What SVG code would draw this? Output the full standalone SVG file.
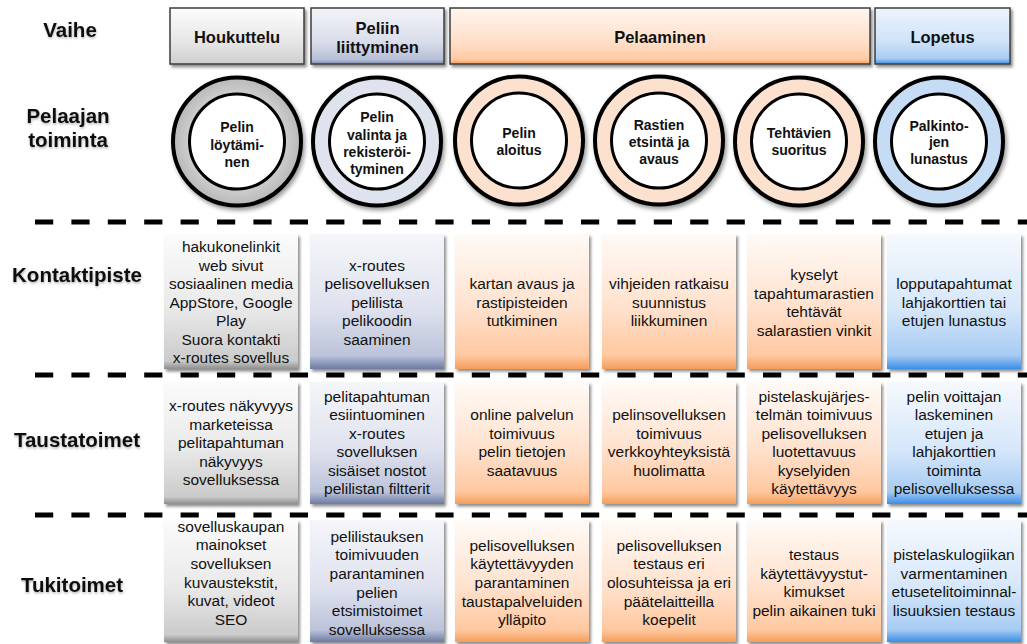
<svg xmlns="http://www.w3.org/2000/svg" width="1027" height="644" viewBox="0 0 1027 644">
  <style>
    text { font-family: "Liberation Sans", Arial, Helvetica, sans-serif; fill: #111; text-anchor: middle; }
    .lab { font-size: 20.5px; font-weight: bold; }
    .hdr { font-size: 16.5px; font-weight: bold; }
    .act { font-size: 14px; font-weight: bold; }
    .cell { font-size: 15.5px; }
    .box { stroke: #3c3c3c; stroke-width: 1.5; filter: url(#shadow); }
    .card { filter: url(#shadow); }
    .ring { stroke: #000; stroke-width: 4; filter: url(#cshadow); }
    .core { fill: #fff; stroke: #000; stroke-width: 3; }
    .dash { stroke: #000; stroke-width: 5; stroke-dasharray: 18.2 18.2; fill: none; }
  </style>
  <defs>
    <filter id="shadow" x="-10%" y="-10%" width="125%" height="125%">
      <feDropShadow dx="2" dy="2.5" stdDeviation="1.6" flood-color="#000" flood-opacity="0.45"/>
    </filter>
    <filter id="cshadow" x="-15%" y="-15%" width="135%" height="135%">
      <feDropShadow dx="2" dy="3" stdDeviation="2" flood-color="#000" flood-opacity="0.4"/>
    </filter>
    <filter id="tshadow" x="-10%" y="-20%" width="120%" height="150%">
      <feDropShadow dx="0.5" dy="1.5" stdDeviation="1" flood-color="#000" flood-opacity="0.3"/>
    </filter>
    <!-- header boxes -->
    <linearGradient id="hGray" x1="0" y1="0" x2="0" y2="1">
      <stop offset="0" stop-color="#fdfdfd"/>
      <stop offset="0.6" stop-color="#e6e6e6"/>
      <stop offset="1" stop-color="#cfcfcf"/>
    </linearGradient>
    <linearGradient id="hSlate" x1="0" y1="0" x2="0" y2="1">
      <stop offset="0" stop-color="#f3f4f9"/>
      <stop offset="0.6" stop-color="#dadeea"/>
      <stop offset="0.92" stop-color="#b7bfd6"/>
      <stop offset="1" stop-color="#7f8db3"/>
    </linearGradient>
    <linearGradient id="hPeach" x1="0" y1="0" x2="0" y2="1">
      <stop offset="0" stop-color="#fff5ef"/>
      <stop offset="0.6" stop-color="#ffdfca"/>
      <stop offset="0.92" stop-color="#ffc9a4"/>
      <stop offset="1" stop-color="#f49a55"/>
    </linearGradient>
    <linearGradient id="hBlue" x1="0" y1="0" x2="0" y2="1">
      <stop offset="0" stop-color="#eef4fd"/>
      <stop offset="0.6" stop-color="#cfe2f8"/>
      <stop offset="0.9" stop-color="#a9cdf3"/>
      <stop offset="1" stop-color="#3f8fe4"/>
    </linearGradient>
    <!-- ring fill for the first action -->
    <radialGradient id="rGray" cx="0.5" cy="0.5" r="0.5">
      <stop offset="0.7" stop-color="#d2d2d2"/>
      <stop offset="1" stop-color="#b8b8b8"/>
    </radialGradient>
    <!-- table cards -->
    <linearGradient id="cGray" x1="0" y1="0" x2="0" y2="1">
      <stop offset="0" stop-color="#fbfbfb"/>
      <stop offset="0.55" stop-color="#e9e9e9"/>
      <stop offset="0.94" stop-color="#cbcbcb"/>
      <stop offset="1" stop-color="#8e8e8e"/>
    </linearGradient>
    <linearGradient id="cSlate" x1="0" y1="0" x2="0" y2="1">
      <stop offset="0" stop-color="#f5f6fa"/>
      <stop offset="0.55" stop-color="#dfe2ee"/>
      <stop offset="0.9" stop-color="#bcc3da"/>
      <stop offset="1" stop-color="#6c7ba2"/>
    </linearGradient>
    <linearGradient id="cPeach" x1="0" y1="0" x2="0" y2="1">
      <stop offset="0" stop-color="#fffaf6"/>
      <stop offset="0.55" stop-color="#ffe1cd"/>
      <stop offset="0.9" stop-color="#ffc8a0"/>
      <stop offset="1" stop-color="#f59d5a"/>
    </linearGradient>
    <linearGradient id="cBlue" x1="0" y1="0" x2="0" y2="1">
      <stop offset="0" stop-color="#f6f9fe"/>
      <stop offset="0.55" stop-color="#d6e7fa"/>
      <stop offset="0.9" stop-color="#a6cbf3"/>
      <stop offset="1" stop-color="#3b8de6"/>
    </linearGradient>
  </defs>

  <!-- row labels -->
  <g id="labels" filter="url(#tshadow)">
    <text class="lab" x="70" y="37">Vaihe</text>
    <text class="lab" x="68" y="123">Pelaajan</text>
    <text class="lab" x="68" y="147">toiminta</text>
    <text class="lab" x="77" y="282">Kontaktipiste</text>
    <text class="lab" x="77" y="447">Taustatoimet</text>
    <text class="lab" x="72" y="592">Tukitoimet</text>
  </g>

  <!-- dashed row separators -->
  <g id="connectors">
    <line class="dash" x1="35" y1="222" x2="1027" y2="222"/>
    <line class="dash" x1="35" y1="375" x2="1027" y2="375"/>
    <line class="dash" x1="35" y1="515" x2="1027" y2="515"/>
  </g>

  <!-- phases -->
  <g id="phase-houkuttelu">
    <rect class="box" x="170" y="8" width="134" height="56" fill="url(#hGray)"/>
    <text class="hdr" x="237" y="43">Houkuttelu</text>
  </g>
  <g id="phase-liittyminen">
    <rect class="box" x="311" y="8" width="133" height="56" fill="url(#hSlate)"/>
    <text class="hdr" x="377.5" y="34">Peliin</text>
    <text class="hdr" x="377.5" y="53">liittyminen</text>
  </g>
  <g id="phase-pelaaminen">
    <rect class="box" x="450" y="8" width="420" height="56" fill="url(#hPeach)"/>
    <text class="hdr" x="660" y="43">Pelaaminen</text>
  </g>
  <g id="phase-lopetus">
    <rect class="box" x="875" y="8" width="135" height="56" fill="url(#hBlue)"/>
    <text class="hdr" x="942.5" y="43">Lopetus</text>
  </g>

  <!-- player actions -->
  <g id="act-loytaminen">
    <circle class="ring" cx="237" cy="141.5" r="64" fill="url(#rGray)"/>
    <circle class="core" cx="237" cy="141.5" r="47.5"/>
    <text class="act" x="237" y="132">Pelin</text>
    <text class="act" x="237" y="149.5">löytämi-</text>
    <text class="act" x="237" y="167">nen</text>
  </g>
  <g id="act-valinta">
    <circle class="ring" cx="377" cy="141.5" r="64" fill="#dfe3ee"/>
    <circle class="core" cx="377" cy="141.5" r="47.5"/>
    <text class="act" x="377" y="122">Pelin</text>
    <text class="act" x="377" y="139.5">valinta ja</text>
    <text class="act" x="377" y="157">rekisteröi-</text>
    <text class="act" x="377" y="174">tyminen</text>
  </g>
  <g id="act-aloitus">
    <circle class="ring" cx="519" cy="140.5" r="64" fill="#fde1cf"/>
    <circle class="core" cx="519" cy="140.5" r="47.5"/>
    <text class="act" x="519" y="138">Pelin</text>
    <text class="act" x="519" y="155">aloitus</text>
  </g>
  <g id="act-rastit">
    <circle class="ring" cx="659" cy="140.5" r="64" fill="#fde1cf"/>
    <circle class="core" cx="659" cy="140.5" r="47.5"/>
    <text class="act" x="659" y="130">Rastien</text>
    <text class="act" x="659" y="147">etsintä ja</text>
    <text class="act" x="659" y="164">avaus</text>
  </g>
  <g id="act-tehtavat">
    <circle class="ring" cx="799" cy="141.5" r="64" fill="#fde1cf"/>
    <circle class="core" cx="799" cy="141.5" r="47.5"/>
    <text class="act" x="799" y="138">Tehtävien</text>
    <text class="act" x="799" y="155">suoritus</text>
  </g>
  <g id="act-palkinnot">
    <circle class="ring" cx="939" cy="141.5" r="64" fill="#c6dcf5"/>
    <circle class="core" cx="939" cy="141.5" r="47.5"/>
    <text class="act" x="939" y="131">Palkinto-</text>
    <text class="act" x="939" y="147">jen</text>
    <text class="act" x="939" y="163.5">lunastus</text>
  </g>

  <!-- Kontaktipiste row -->
  <g id="kp-1">
    <rect class="card" x="164" y="234" width="134" height="135" fill="url(#cGray)"/>
    <text class="cell" y="252"><tspan x="231">hakukonelinkit</tspan><tspan x="231" dy="18.5">web sivut</tspan><tspan x="231" dy="18.5">sosiaalinen media</tspan><tspan x="231" dy="18.5">AppStore, Google</tspan><tspan x="231" dy="18.5">Play</tspan><tspan x="231" dy="18.5">Suora kontakti</tspan><tspan x="231" dy="18.5">x-routes sovellus</tspan></text>
  </g>
  <g id="kp-2">
    <rect class="card" x="310" y="234" width="134" height="135" fill="url(#cSlate)"/>
    <text class="cell" y="270.5"><tspan x="377">x-routes</tspan><tspan x="377" dy="18.5">pelisovelluksen</tspan><tspan x="377" dy="18.5">pelilista</tspan><tspan x="377" dy="18.5">pelikoodin</tspan><tspan x="377" dy="18.5">saaminen</tspan></text>
  </g>
  <g id="kp-3">
    <rect class="card" x="455" y="234" width="134" height="135" fill="url(#cPeach)"/>
    <text class="cell" y="289"><tspan x="522">kartan avaus ja</tspan><tspan x="522" dy="18.5">rastipisteiden</tspan><tspan x="522" dy="18.5">tutkiminen</tspan></text>
  </g>
  <g id="kp-4">
    <rect class="card" x="602" y="234" width="134" height="135" fill="url(#cPeach)"/>
    <text class="cell" y="289"><tspan x="669">vihjeiden ratkaisu</tspan><tspan x="669" dy="18.5">suunnistus</tspan><tspan x="669" dy="18.5">liikkuminen</tspan></text>
  </g>
  <g id="kp-5">
    <rect class="card" x="747" y="234" width="134" height="135" fill="url(#cPeach)"/>
    <text class="cell" y="280"><tspan x="814">kyselyt</tspan><tspan x="814" dy="18.5">tapahtumarastien</tspan><tspan x="814" dy="18.5">tehtävät</tspan><tspan x="814" dy="18.5">salarastien vinkit</tspan></text>
  </g>
  <g id="kp-6">
    <rect class="card" x="887" y="234" width="134" height="135" fill="url(#cBlue)"/>
    <text class="cell" y="289"><tspan x="954">lopputapahtumat</tspan><tspan x="954" dy="18.5">lahjakorttien tai</tspan><tspan x="954" dy="18.5">etujen lunastus</tspan></text>
  </g>

  <!-- Taustatoimet row -->
  <g id="tt-1">
    <rect class="card" x="164" y="382" width="134" height="122" fill="url(#cGray)"/>
    <text class="cell" y="411"><tspan x="231">x-routes näkyvyys</tspan><tspan x="231" dy="18.5">marketeissa</tspan><tspan x="231" dy="18.5">pelitapahtuman</tspan><tspan x="231" dy="18.5">näkyvyys</tspan><tspan x="231" dy="18.5">sovelluksessa</tspan></text>
  </g>
  <g id="tt-2">
    <rect class="card" x="310" y="382" width="134" height="122" fill="url(#cSlate)"/>
    <text class="cell" y="401.75"><tspan x="377">pelitapahtuman</tspan><tspan x="377" dy="18.5">esiintuominen</tspan><tspan x="377" dy="18.5">x-routes</tspan><tspan x="377" dy="18.5">sovelluksen</tspan><tspan x="377" dy="18.5">sisäiset nostot</tspan><tspan x="377" dy="18.5">pelilistan filtterit</tspan></text>
  </g>
  <g id="tt-3">
    <rect class="card" x="455" y="382" width="134" height="122" fill="url(#cPeach)"/>
    <text class="cell" y="420.25"><tspan x="522">online palvelun</tspan><tspan x="522" dy="18.5">toimivuus</tspan><tspan x="522" dy="18.5">pelin tietojen</tspan><tspan x="522" dy="18.5">saatavuus</tspan></text>
  </g>
  <g id="tt-4">
    <rect class="card" x="602" y="382" width="134" height="122" fill="url(#cPeach)"/>
    <text class="cell" y="420.25"><tspan x="669">pelinsovelluksen</tspan><tspan x="669" dy="18.5">toimivuus</tspan><tspan x="669" dy="18.5">verkkoyhteyksistä</tspan><tspan x="669" dy="18.5">huolimatta</tspan></text>
  </g>
  <g id="tt-5">
    <rect class="card" x="747" y="382" width="134" height="122" fill="url(#cPeach)"/>
    <text class="cell" y="401.75"><tspan x="814">pistelaskujärjes-</tspan><tspan x="814" dy="18.5">telmän toimivuus</tspan><tspan x="814" dy="18.5">pelisovelluksen</tspan><tspan x="814" dy="18.5">luotettavuus</tspan><tspan x="814" dy="18.5">kyselyiden</tspan><tspan x="814" dy="18.5">käytettävyys</tspan></text>
  </g>
  <g id="tt-6">
    <rect class="card" x="887" y="382" width="134" height="122" fill="url(#cBlue)"/>
    <text class="cell" y="401.75"><tspan x="954">pelin voittajan</tspan><tspan x="954" dy="18.5">laskeminen</tspan><tspan x="954" dy="18.5">etujen ja</tspan><tspan x="954" dy="18.5">lahjakorttien</tspan><tspan x="954" dy="18.5">toiminta</tspan><tspan x="954" dy="18.5">pelisovelluksessa</tspan></text>
  </g>

  <!-- Tukitoimet row -->
  <g id="tu-1">
    <rect class="card" x="164" y="520" width="134" height="122" fill="url(#cGray)"/>
    <text class="cell" y="531.5"><tspan x="231">sovelluskaupan</tspan><tspan x="231" dy="18.7">mainokset</tspan><tspan x="231" dy="18.7">sovelluksen</tspan><tspan x="231" dy="18.7">kuvaustekstit,</tspan><tspan x="231" dy="18.7">kuvat, videot</tspan><tspan x="231" dy="18.7">SEO</tspan></text>
  </g>
  <g id="tu-2">
    <rect class="card" x="310" y="520" width="134" height="122" fill="url(#cSlate)"/>
    <text class="cell" y="541.5"><tspan x="377">pelilistauksen</tspan><tspan x="377" dy="18.7">toimivuuden</tspan><tspan x="377" dy="18.7">parantaminen</tspan><tspan x="377" dy="18.7">pelien</tspan><tspan x="377" dy="18.7">etsimistoimet</tspan><tspan x="377" dy="18.7">sovelluksessa</tspan></text>
  </g>
  <g id="tu-3">
    <rect class="card" x="455" y="520" width="134" height="122" fill="url(#cPeach)"/>
    <text class="cell" y="550.5"><tspan x="522">pelisovelluksen</tspan><tspan x="522" dy="18.7">käytettävyyden</tspan><tspan x="522" dy="18.7">parantaminen</tspan><tspan x="522" dy="18.7">taustapalveluiden</tspan><tspan x="522" dy="18.7">ylläpito</tspan></text>
  </g>
  <g id="tu-4">
    <rect class="card" x="602" y="520" width="134" height="122" fill="url(#cPeach)"/>
    <text class="cell" y="550.5"><tspan x="669">pelisovelluksen</tspan><tspan x="669" dy="18.7">testaus eri</tspan><tspan x="669" dy="18.7">olosuhteissa ja eri</tspan><tspan x="669" dy="18.7">päätelaitteilla</tspan><tspan x="669" dy="18.7">koepelit</tspan></text>
  </g>
  <g id="tu-5">
    <rect class="card" x="747" y="520" width="134" height="122" fill="url(#cPeach)"/>
    <text class="cell" y="560"><tspan x="814">testaus</tspan><tspan x="814" dy="18.7">käytettävyystut-</tspan><tspan x="814" dy="18.7">kimukset</tspan><tspan x="814" dy="18.7">pelin aikainen tuki</tspan></text>
  </g>
  <g id="tu-6">
    <rect class="card" x="887" y="520" width="134" height="122" fill="url(#cBlue)"/>
    <text class="cell" y="560"><tspan x="954">pistelaskulogiikan</tspan><tspan x="954" dy="18.7">varmentaminen</tspan><tspan x="954" dy="18.7">etusetelitoiminnal-</tspan><tspan x="954" dy="18.7">lisuuksien testaus</tspan></text>
  </g>
</svg>
